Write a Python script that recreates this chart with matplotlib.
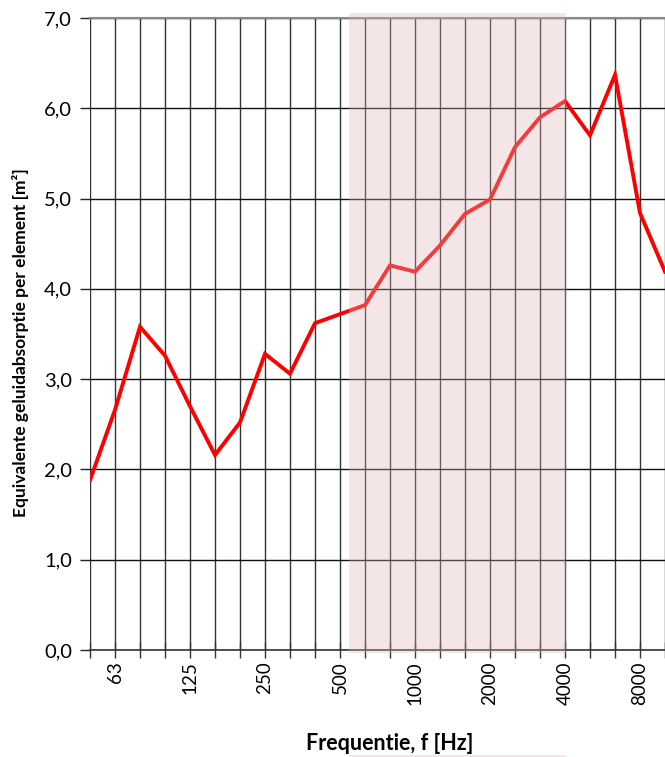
import matplotlib.pyplot as plt
from matplotlib.patches import Rectangle

# third-octave bands (Hz)
bands = [50, 63, 80, 100, 125, 160, 200, 250, 315, 400, 500, 630, 800,
         1000, 1250, 1600, 2000, 2500, 3150, 4000, 5000, 6300, 8000, 10000]
absorption = [1.88, 2.66, 3.58, 3.26, 2.70, 2.16, 2.52, 3.28, 3.06, 3.62,
              3.72, 3.82, 4.26, 4.19, 4.48, 4.83, 4.99, 5.57, 5.90, 6.08,
              5.70, 6.37, 4.84, 4.19]
labelled = [63, 125, 250, 500, 1000, 2000, 4000, 8000]
yticks = [0, 1, 2, 3, 4, 5, 6, 7]
band_lo, band_hi = 10.36, 19.03  # shaded range, in band-index units

plt.rcParams['font.family'] = ['Lato', 'DejaVu Sans']

fig = plt.figure(figsize=(6.65, 7.57), dpi=100)
ax = fig.add_axes([90 / 665, 1 - 650 / 757, 575 / 665, 632 / 757])

x = list(range(len(bands)))
ax.plot(x, absorption, color='#ff0000', lw=2.8, solid_joinstyle='miter', zorder=3)

ax.set_xlim(0, len(bands) - 1)
ax.set_ylim(0, 7)

ax.set_xticks(x)
ax.set_xticklabels([str(b) if b in labelled else '' for b in bands],
                   rotation=90, fontsize=13.5)
ax.set_yticks(yticks)
ax.set_yticklabels([f'{v:.1f}'.replace('.', ',') for v in yticks], fontsize=14.5)
ax.tick_params(axis='x', direction='inout', length=12, width=1, color='#333333', pad=2)
ax.tick_params(axis='y', direction='out', length=7, width=1, color='#222222', pad=6)

ax.grid(axis='x', color='#333333', lw=1)
ax.grid(axis='y', color='#111111', lw=1)
ax.set_axisbelow(True)
for side in ['left', 'right']:
    ax.spines[side].set_visible(False)
ax.spines['top'].set_color('#888888')
ax.spines['top'].set_linewidth(1.5)
ax.spines['bottom'].set_color('#333333')
ax.spines['bottom'].set_linewidth(1.2)

# shaded range drawn on top of grid and line
trans = ax.get_xaxis_transform()
ax.add_patch(Rectangle((band_lo, -0.004), band_hi - band_lo, 1.012, transform=trans,
                       facecolor=(222 / 255, 180 / 255, 180 / 255), alpha=0.33,
                       edgecolor='none', clip_on=False, zorder=5))
fig.patches.append(Rectangle((ax.transData.transform((band_lo, 0))[0] / 665, 0),
                             (band_hi - band_lo) * 25 / 665, 2 / 757,
                             transform=fig.transFigure,
                             facecolor='#f7e4e8', edgecolor='none'))

ax.set_xlabel('Frequentie, f [Hz]', fontsize=15.5, fontweight='bold')
ax.xaxis.set_label_coords((390 - 90) / 575, -(743 - 650) / 632, transform=ax.transAxes)
ax.xaxis.label.set_va('center')
ax.set_ylabel('Equivalente geluidabsorptie per element [m²]', fontsize=12.5,
              fontweight='bold')
ax.yaxis.set_label_coords(-(90 - 21) / 575, (650 - 343) / 632)
ax.yaxis.label.set_va('center')

fig.savefig('out.png', dpi=100)
